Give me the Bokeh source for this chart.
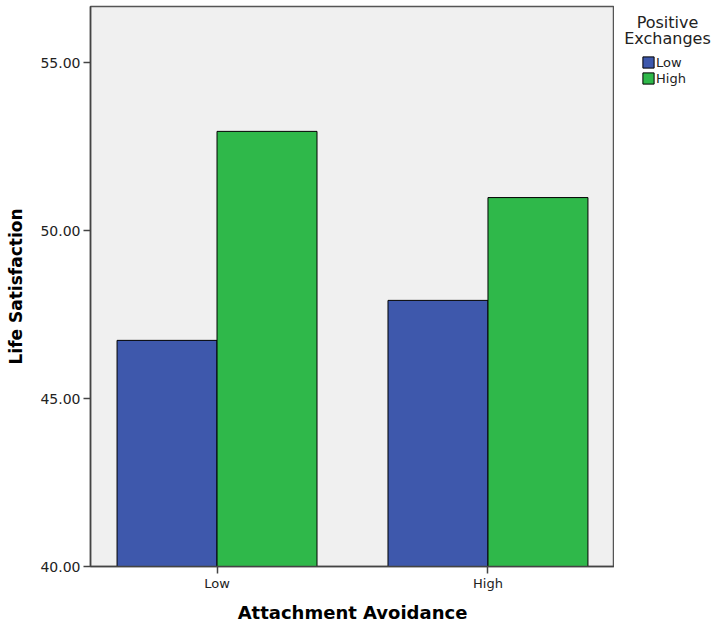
from bokeh.plotting import figure
from bokeh.layouts import row
from bokeh.models import (ColumnDataSource, Range1d, FactorRange, Legend, LegendItem,
                          NumeralTickFormatter, FixedTicker, Label)
from bokeh.transform import dodge
from bokeh.embed import file_html
from bokeh.resources import INLINE

avoidance = ["Low", "High"]
low_exch = [46.73, 47.92]
high_exch = [52.95, 50.98]
yticks = [40, 45, 50, 55]
legend_title = ["Positive", "Exchanges"]
legend_labels = ["Low", "High"]
colors = ["#3e58ac", "#2fb84a"]

src = ColumnDataSource(dict(x=avoidance, low=low_exch, high=high_exch))

p = figure(frame_width=524, frame_height=560, output_backend="svg", toolbar_location=None,
           x_range=FactorRange(factors=avoidance, range_padding=-0.033),
           y_range=Range1d(40, 40 + 560 / 33.6),
           min_border_left=90, min_border_right=0, min_border_top=6, min_border_bottom=57)
p.background_fill_color = "#f0f0f0"
p.border_fill_color = "white"
p.outline_line_color = "#555555"
p.outline_line_width = 1.5
p.xgrid.visible = False
p.ygrid.visible = False

w = 0.369
p.vbar(x=dodge("x", -w/2, range=p.x_range), top="low", bottom=40, width=w, source=src,
       fill_color=colors[0], line_color="black", line_width=1)
p.vbar(x=dodge("x", w/2, range=p.x_range), top="high", bottom=40, width=w, source=src,
       fill_color=colors[1], line_color="black", line_width=1)

font = "DejaVu Sans"
for ax in (p.xaxis[0], p.yaxis[0]):
    ax.axis_line_color = "#444444"
    ax.axis_line_width = 1.5
    ax.major_tick_line_color = "#444444"
    ax.major_tick_line_width = 1.5
    ax.major_tick_out = 7
    ax.major_tick_in = 0
    ax.minor_tick_line_color = None
    ax.major_label_text_font = font
    ax.major_label_text_color = "#222222"
    ax.axis_label_text_font = font
    ax.axis_label_text_font_style = "bold"
    ax.axis_label_text_color = "black"

p.xaxis.major_label_text_font_size = "13px"
p.yaxis.major_label_text_font_size = "14px"
p.xaxis.major_label_standoff = 2
p.yaxis.major_label_standoff = 3
p.xaxis.axis_label_text_font_size = "18px"
p.yaxis.axis_label_text_font_size = "17px"

p.yaxis.ticker = FixedTicker(ticks=yticks)
p.yaxis.formatter = NumeralTickFormatter(format="0.00")
p.yaxis.axis_label = "Life Satisfaction"
p.yaxis.axis_label_standoff = 11
p.xaxis.axis_label = "Attachment Avoidance"
p.xaxis.axis_label_standoff = 8

# legend panel (frame aligned with the main plot's frame: top 6, bottom 566)
lf = figure(frame_width=99, frame_height=560, output_backend="svg", toolbar_location=None,
            x_range=FactorRange(factors=avoidance), y_range=Range1d(0, 1),
            x_axis_location=None, y_axis_location=None,
            min_border_left=0, min_border_right=0, min_border_top=6, min_border_bottom=57)
lf.outline_line_color = None
lf.xgrid.visible = False
lf.ygrid.visible = False
lf.background_fill_color = "white"
items = []
for lab, col, field in zip(legend_labels, colors, ["low", "high"]):
    r = lf.vbar(x="x", top=field, bottom=40, width=0.1, source=src, visible=False,
                fill_color=col, line_color="black", line_width=1)
    items.append(LegendItem(label=lab, renderers=[r]))
legend = Legend(items=items, location=(27, 480),
                border_line_color=None, background_fill_alpha=0,
                glyph_width=14, glyph_height=14, label_height=16,
                label_text_font=font, label_text_font_size="13px", label_text_color="#222222",
                spacing=0, padding=0, margin=0, label_standoff=1,
                inactive_fill_alpha=0)
lf.add_layout(legend, "center")
for txt, yy in zip(legend_title, [544, 528]):
    lf.add_layout(Label(x=53, y=yy, x_units="screen", y_units="screen", text=txt,
                        text_align="center", text_baseline="middle",
                        text_font=font, text_font_size="16px", text_color="#222222"))

layout = row(p, lf)
open("out.html", "w").write(file_html(layout, INLINE))
